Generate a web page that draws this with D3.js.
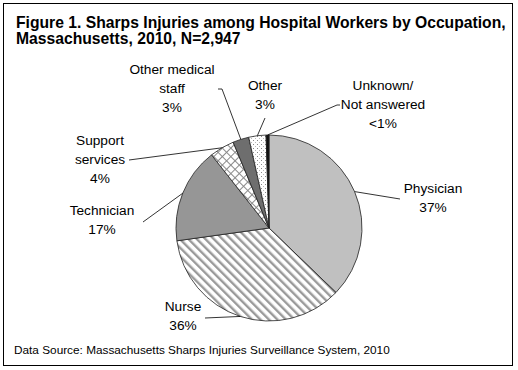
<!DOCTYPE html>
<html lang="en">
<head>
  <meta charset="UTF-8">
  <title>Sharps Injuries by Occupation</title>
  <script src="https://d3js.org/d3.v7.min.js"></script>
  <style>
    body { margin: 0; background: #fff; }
    text { font-family: "Liberation Sans", Arial, sans-serif; fill: #000; }
  </style>
</head>
<body>
  <div id="chart"></div>
  <script>
    // occupations, clockwise from 12 o'clock
    const occupations = ["Physician", "Nurse", "Technician", "Support services",
      "Other medical staff", "Other", "Unknown/ Not answered"];
    const shares = [37.2, 35.6, 16.6, 4.3, 2.8, 3.0, 0.5];
    const shareLabels = ["37%", "36%", "17%", "4%", "3%", "3%", "<1%"];
    const labelLines = [["Physician"], ["Nurse"], ["Technician"], ["Support", "services"],
      ["Other medical", "staff"], ["Other"], ["Unknown/", "Not answered"]];

    // label layout: text centre, first baseline, leader end
    const labelLayout = [
      { x: 433, y: 193, lx: 400, ly: 199 },
      { x: 183, y: 311, lx: 205, ly: 318 },
      { x: 102, y: 215, lx: 143, ly: 222 },
      { x: 100, y: 145, lx: 129, ly: 160 },
      { x: 172, y: 74, lx: 222, ly: 89, tick: 4 },
      { x: 265, y: 90, lx: 265, ly: 118 },
      { x: 383, y: 90, lx: 337, ly: 105, tick: -3 }
    ];

    const width = 518, height = 370;
    const cx = 269, cy = 228, radius = 93;

    const svg = d3.select("#chart").append("svg")
      .attr("width", width)
      .attr("height", height);

    const defs = svg.append("defs");

    // diagonal stripes for Nurse
    const stripes = defs.append("pattern")
      .attr("id", "stripes")
      .attr("patternUnits", "userSpaceOnUse")
      .attr("width", 6).attr("height", 6)
      .attr("patternTransform", "rotate(-45)");
    stripes.append("rect").attr("width", 6).attr("height", 6).attr("fill", "#fff");
    stripes.append("rect").attr("x", 0).attr("width", 2.4).attr("height", 6).attr("fill", "#9a9a9a");

    // diamond crosshatch for Support services
    const hatch = defs.append("pattern")
      .attr("id", "hatch")
      .attr("patternUnits", "userSpaceOnUse")
      .attr("width", 6).attr("height", 6)
      .attr("patternTransform", "rotate(45)");
    hatch.append("rect").attr("width", 6).attr("height", 6).attr("fill", "#fff");
    hatch.append("path").attr("d", "M0,0.5H6M0.5,0V6").attr("stroke", "#8a8a8a").attr("stroke-width", 1);

    // dots for Other
    const dots = defs.append("pattern")
      .attr("id", "dots")
      .attr("patternUnits", "userSpaceOnUse")
      .attr("width", 4).attr("height", 4);
    dots.append("rect").attr("width", 4).attr("height", 4).attr("fill", "#fff");
    dots.append("rect").attr("x", 0).attr("y", 0).attr("width", 1).attr("height", 1).attr("fill", "#888");
    dots.append("rect").attr("x", 2).attr("y", 2).attr("width", 1).attr("height", 1).attr("fill", "#bbb");

    const fills = ["#c0c0c0", "url(#stripes)", "#969696", "url(#hatch)", "#6e6e6e", "url(#dots)", "#111"];

    // frame
    svg.append("rect")
      .attr("x", 3.5).attr("y", 3.5)
      .attr("width", 509).attr("height", 362)
      .attr("fill", "#fff")
      .attr("stroke", "#000")
      .attr("stroke-width", 1);

    // title
    const title = svg.append("text")
      .attr("x", 16).attr("y", 28)
      .attr("font-size", "15.7px")
      .attr("font-weight", "bold");
    title.append("tspan").attr("x", 16).text("Figure 1. Sharps Injuries among Hospital Workers by Occupation,");
    title.append("tspan").attr("x", 16).attr("dy", 16).text("Massachusetts, 2010, N=2,947");

    const pie = d3.pie().sort(null).value(d => d);
    const arcs = pie(shares);
    const arc = d3.arc().innerRadius(0).outerRadius(radius);

    const g = svg.append("g").attr("transform", `translate(${cx},${cy})`);

    g.selectAll("path")
      .data(arcs)
      .enter()
      .append("path")
      .attr("d", arc)
      .attr("fill", (d, i) => fills[i])
      .attr("stroke", "#222")
      .attr("stroke-width", 0.8);

    // leader lines
    arcs.forEach((d, i) => {
      const mid = (d.startAngle + d.endAngle) / 2;
      const px = cx + radius * Math.sin(mid);
      const py = cy - radius * Math.cos(mid);
      const L = labelLayout[i];
      let pts = [[px, py], [L.lx, L.ly]];
      if (L.tick) pts.push([L.lx - L.tick, L.ly]);
      svg.append("path")
        .attr("d", d3.line()(pts))
        .attr("fill", "none")
        .attr("stroke", "#000")
        .attr("stroke-width", 0.8);
    });

    // labels
    const lineGap = 19;
    labelLines.forEach((lines, i) => {
      const L = labelLayout[i];
      const t = svg.append("text")
        .attr("text-anchor", "middle")
        .attr("font-size", "13.7px");
      lines.concat([shareLabels[i]]).forEach((s, j) => {
        t.append("tspan")
          .attr("x", L.x)
          .attr("y", L.y + j * lineGap)
          .text(s);
      });
    });

    // source note
    svg.append("text")
      .attr("x", 14).attr("y", 354)
      .attr("font-size", "11.8px")
      .text("Data Source: Massachusetts Sharps Injuries Surveillance System, 2010");
  </script>
</body>
</html>
